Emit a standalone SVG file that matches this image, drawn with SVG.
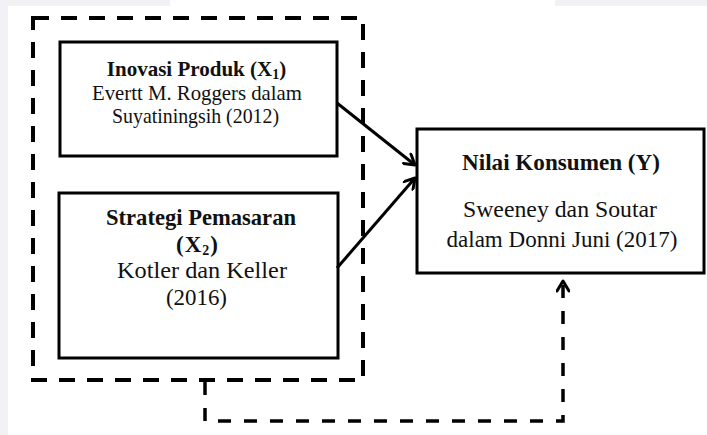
<svg xmlns="http://www.w3.org/2000/svg" width="707" height="435" viewBox="0 0 707 435">
<style>
.box{fill:#fff;stroke:#000;stroke-width:3}
.t{font-family:"Liberation Serif","Times New Roman",serif;font-size:23px;fill:#111;text-anchor:middle}
.s{font-size:21px}
.b{font-weight:bold}
.sub{font-size:14px}
.conn{fill:none;stroke:#000;stroke-width:3}
.dash{fill:none;stroke:#000;stroke-width:4;stroke-dasharray:16 12}
.dash2{fill:none;stroke:#000;stroke-width:3.5;stroke-dasharray:13 13}
</style>
<defs>
<marker id="arr" viewBox="0 0 14 14" refX="12" refY="7" markerWidth="14" markerHeight="14" markerUnits="userSpaceOnUse" orient="auto">
<path d="M2,1 L12,7 L2,13" fill="none" stroke="#000" stroke-width="3" stroke-linecap="round" stroke-linejoin="round"/>
</marker>
</defs>
<rect x="0" y="0" width="707" height="435" fill="#fff"/>
<rect x="0" y="0" width="170" height="6" fill="#f2f2f6"/>
<rect x="0" y="0" width="8" height="435" fill="#f2f2f6"/>
<rect x="555" y="0" width="152" height="6" fill="#f2f2f6"/>
<g id="group-x">
<rect class="dash" x="33" y="18" width="330" height="362"/>
</g>
<g id="node-x1">
<rect class="box" x="60" y="42" width="277" height="114"/>
<text class="t s b" x="196.5" y="76">Inovasi Produk (X<tspan class="sub" baseline-shift="-3">1</tspan>)</text>
<text class="t s" x="197" y="100" textLength="210" lengthAdjust="spacingAndGlyphs">Evertt M. Roggers dalam</text>
<text class="t s" x="195.5" y="123" textLength="167" lengthAdjust="spacingAndGlyphs">Suyatiningsih (2012)</text>
</g>
<g id="node-x2">
<rect class="box" x="59" y="193" width="279" height="165"/>
<text class="t b" x="201" y="225" textLength="190" lengthAdjust="spacingAndGlyphs">Strategi Pemasaran</text>
<text class="t b" x="197.5" y="252" letter-spacing="1">(X<tspan class="sub" baseline-shift="-3">2</tspan>)</text>
<text class="t" x="202" y="278" textLength="170" lengthAdjust="spacingAndGlyphs">Kotler dan Keller</text>
<text class="t" x="196.5" y="305" textLength="61" lengthAdjust="spacingAndGlyphs">(2016)</text>
</g>
<g id="node-y">
<rect class="box" x="417" y="129" width="287" height="144"/>
<text class="t b" x="561" y="170" textLength="198" lengthAdjust="spacingAndGlyphs">Nilai Konsumen (Y)</text>
<text class="t" x="560" y="217" textLength="194" lengthAdjust="spacingAndGlyphs">Sweeney dan Soutar</text>
<text class="t" x="562" y="247" textLength="231" lengthAdjust="spacingAndGlyphs">dalam Donni Juni (2017)</text>
</g>
<g id="connectors">
<line class="conn" x1="337" y1="103" x2="415" y2="165" marker-end="url(#arr)"/>
<line class="conn" x1="337" y1="268" x2="415" y2="178" marker-end="url(#arr)"/>
<path class="dash2" d="M205,382 V421 H563 V281" marker-end="url(#arr)"/>
</g>
</svg>
